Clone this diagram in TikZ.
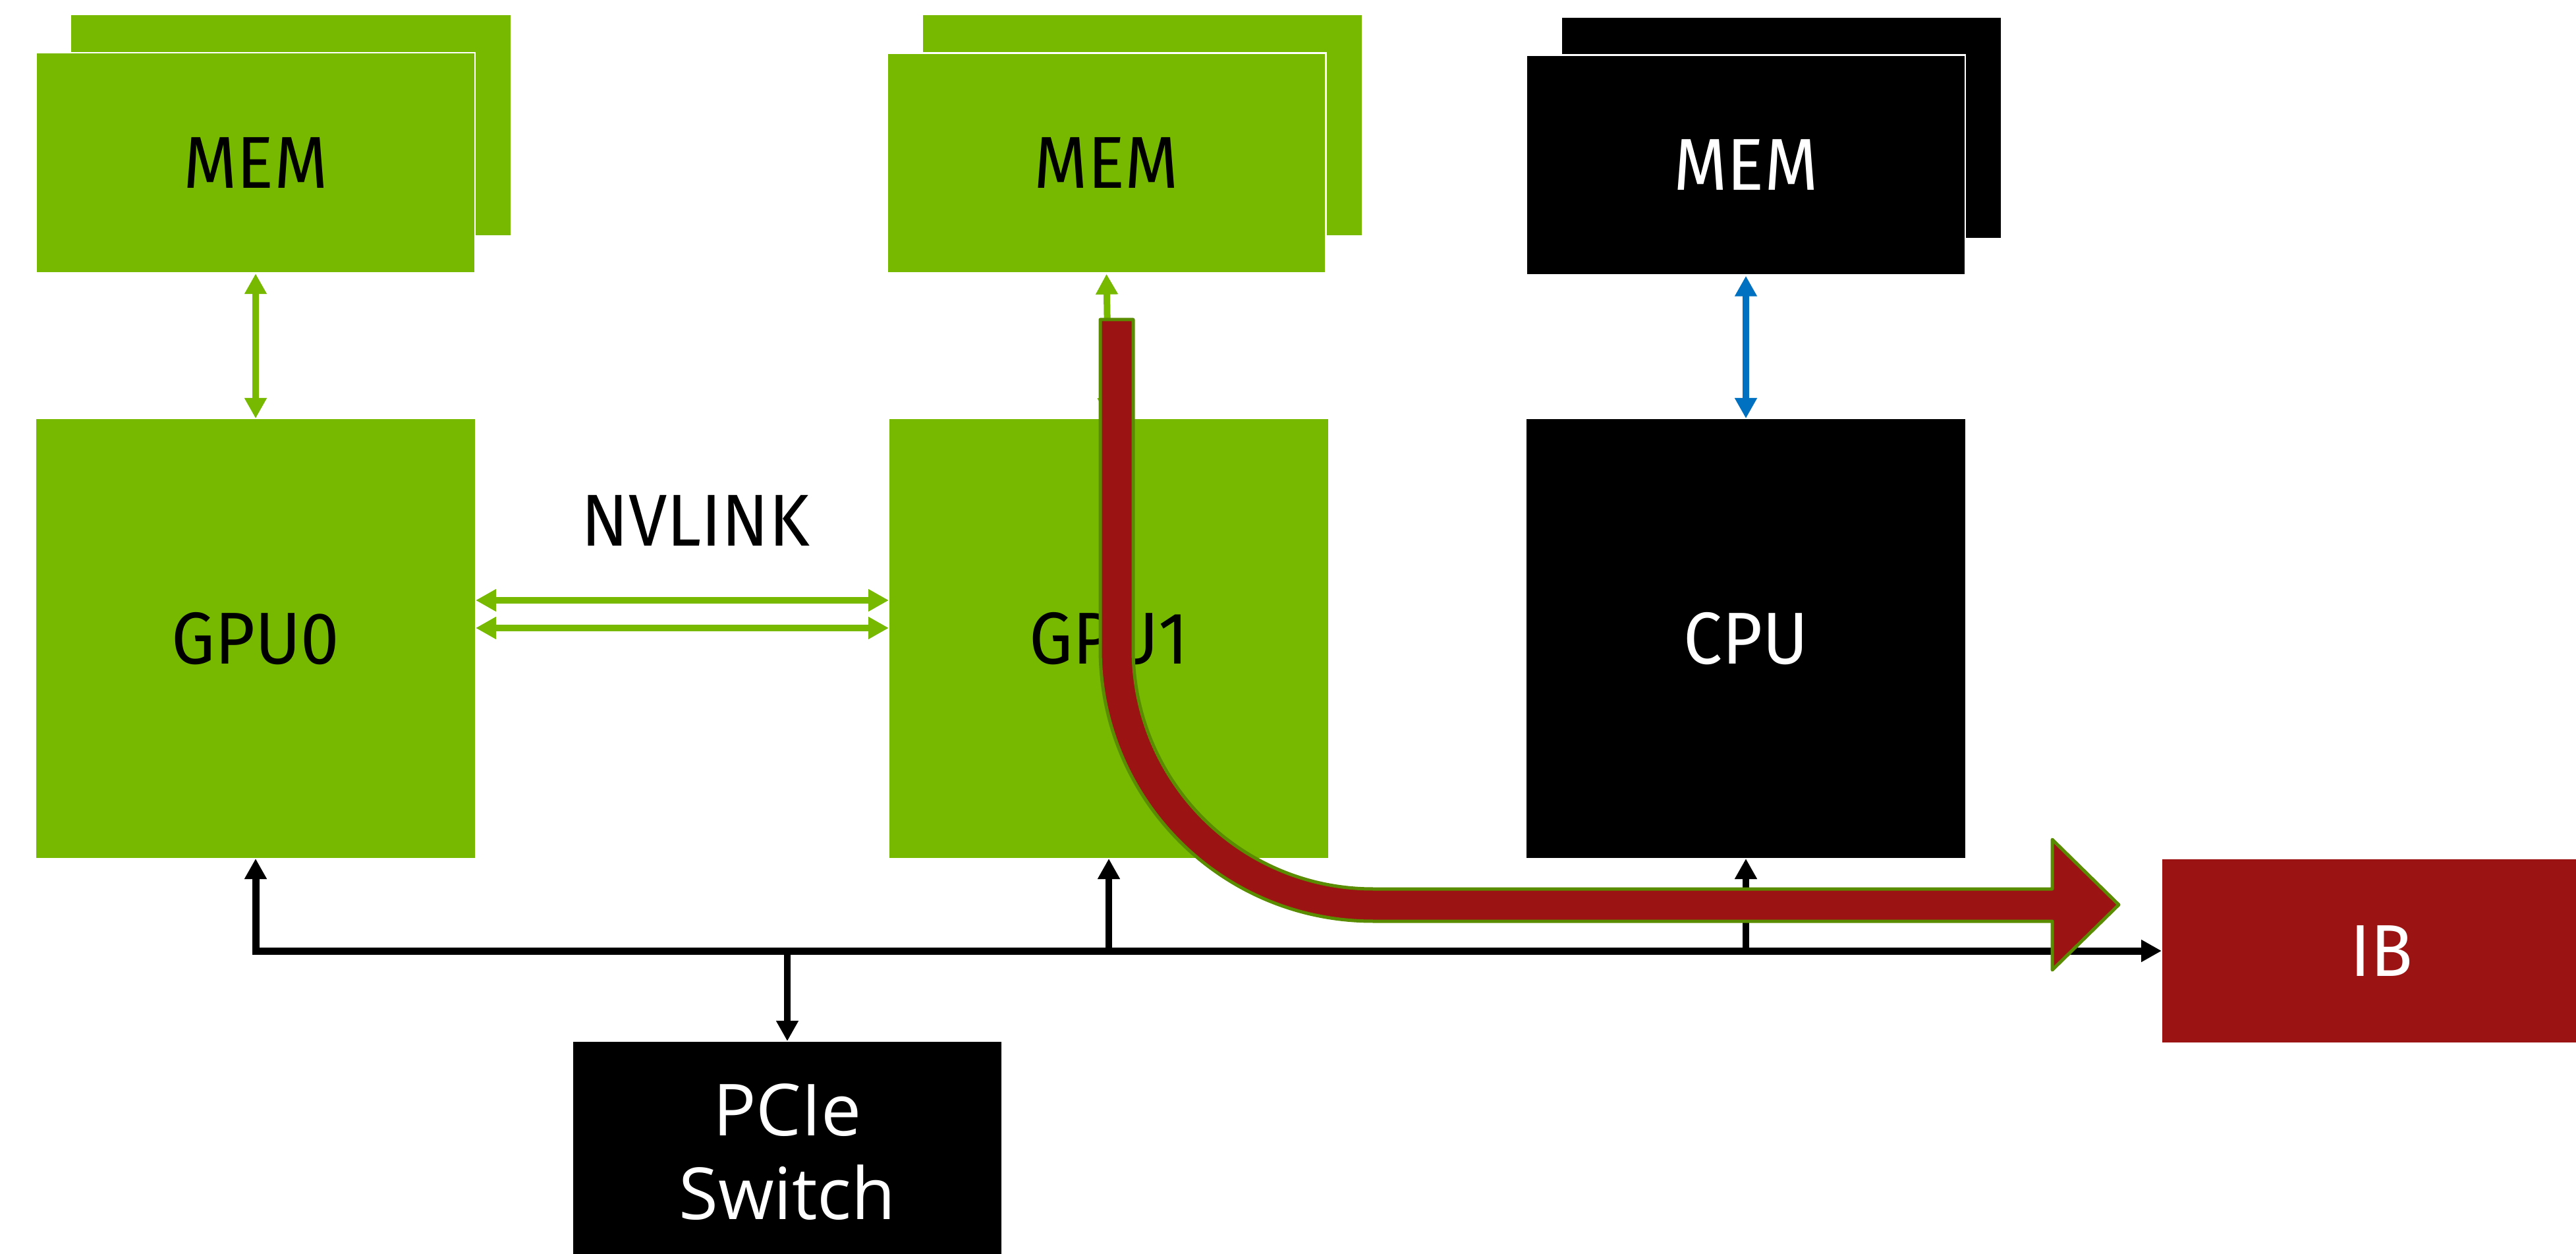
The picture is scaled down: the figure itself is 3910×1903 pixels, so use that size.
\documentclass[tikz,border=0pt]{standalone}
\usepackage{fontspec}
\setmainfont{Fira Sans}[FakeStretch=0.94]
\newfontfamily\pcifont{Open Sans}
\usetikzlibrary{arrows.meta}
\definecolor{nvgreen}{HTML}{76B900}
\definecolor{ibred}{HTML}{9B1313}
\definecolor{cpublue}{HTML}{0070C0}
\definecolor{outlinegreen}{HTML}{5A8C00}
\begin{document}
\begin{tikzpicture}[x=0.2pt,y=-0.2pt,
  box/.style={minimum width=133.2pt,minimum height=66.8pt,inner sep=0pt,font=\fontsize{22.3}{26}\selectfont},
  gbox/.style={box,fill=nvgreen,text=black},
  kbox/.style={box,fill=black,text=white},
  frontbox/.style={draw=white,line width=0.5pt},
  bigbox/.style={minimum height=133.2pt},
  garrow/.style={draw=nvgreen,line width=2pt,{Triangle[length=6.2pt,width=6.4pt]}-{Triangle[length=6.2pt,width=6.4pt]}},
  barrow/.style={draw=cpublue,line width=2pt,{Triangle[length=6.2pt,width=6.4pt]}-{Triangle[length=6.2pt,width=6.4pt]}},
  bus/.style={draw=black,line width=2.2pt},
  busarrow/.style={draw=black,line width=2pt,-{Triangle[length=6.2pt,width=6.4pt]}},
  flow/.style={fill=ibred,draw=outlinegreen,line width=1pt,line join=round}
]
\useasboundingbox (0,0) rectangle (3910,1903);
\clip (0,0) rectangle (3910,1903);
% memory stacks
\node[gbox] (mem0b) at (441.5,190.5) {};
\node[gbox,frontbox] (mem0) at (388,247) {MEM};
\node[gbox] (mem1b) at (1733.5,190.5) {};
\node[gbox,frontbox] (mem1) at (1679.5,247.5) {MEM};
\node[kbox] (memcb) at (2704,194) {};
\node[kbox,frontbox] (memc) at (2650,250.5) {MEM};
% processors
\node[gbox,bigbox] (gpu0) at (388,969) {GPU0};
\node[gbox,bigbox] (gpu1) at (1683,969) {GPU1};
\node[kbox,bigbox] (cpu) at (2650,969) {CPU};
\node[box,fill=ibred,text=white,minimum height=55.6pt] (ib) at (3615,1443) {IB};
\node[kbox,minimum width=130pt,font=\pcifont\fontsize{21.8}{25.4}\selectfont,align=center] (pcie) at (1195,1748) {PCIe\\Switch};
\node[font=\fontsize{22.3}{26}\selectfont,inner sep=0pt] (nvl) at (1056,790) {NVLINK};
% memory links
\draw[garrow] (mem0.south) -- (gpu0.north);
\draw[garrow] (mem1.south) -- (gpu1.north);
\draw[barrow] (memc.south) -- (cpu.north);
% nvlink
\draw[garrow] (gpu0.east |- 0,911) -- (gpu1.west |- 0,911);
\draw[garrow] (gpu0.east |- 0,953) -- (gpu1.west |- 0,953);
% pcie bus
\draw[bus,{Triangle[length=6.2pt,width=6.4pt]}-{Triangle[length=6.2pt,width=6.4pt]}] (gpu0.south) |- (ib.west);
\draw[busarrow] (gpu1.south |- ib.west) -- (gpu1.south);
\draw[busarrow] (cpu.south |- ib.west) -- (cpu.south);
\draw[busarrow] (pcie.north |- ib.west) -- (pcie.north);
% data flow arrow
\path[flow] (1670,485) -- (1670,985) .. controls (1670,1214) and (1855,1398) .. (2084,1398)
  -- (3115,1398) -- (3115,1472) -- (3216,1373) -- (3115,1274) -- (3115,1349) -- (2084,1349)
  .. controls (1883,1349) and (1720,1186) .. (1720,985) -- (1720,485) -- cycle;
\end{tikzpicture}
\end{document}
